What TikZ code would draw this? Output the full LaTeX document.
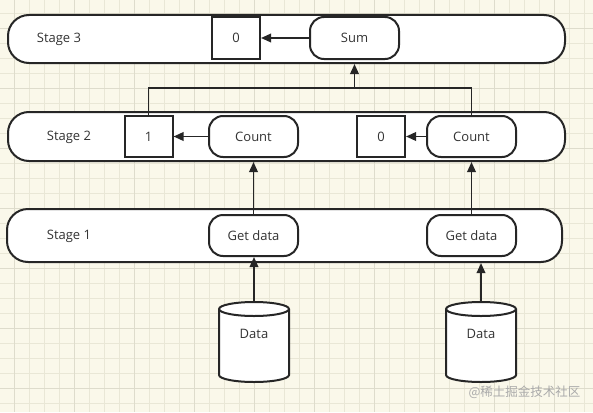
\documentclass[tikz,border=0pt]{standalone}
\usepackage{fontspec}
\setmainfont{Open Sans}
\newfontfamily\cjkfont{Noto Sans CJK SC}
\usetikzlibrary{arrows.meta}
\definecolor{bgcream}{RGB}{250,248,234}
\definecolor{gridminor}{RGB}{233,231,214}
\definecolor{gridmajor}{RGB}{222,220,204}
\definecolor{ink}{RGB}{38,38,38}
\definecolor{txt}{RGB}{51,51,51}
\definecolor{wm}{RGB}{170,170,170}
\tikzset{
  stagebox/.style={draw=ink, line width=2pt, fill=white, rounded corners=21pt, inner sep=0pt},
  valbox/.style={draw=ink, line width=2pt, fill=white, inner sep=0pt, minimum width=48pt, minimum height=41pt, text=txt},
  procbox/.style={draw=ink, line width=2pt, fill=white, rounded corners=14pt, inner sep=0pt, minimum width=89pt, minimum height=41pt, text=txt},
  dbline/.style={draw=ink, line width=2pt, fill=white},
  lbl/.style={text=txt, inner sep=0pt},
  arr/.style={draw=ink, line width=1.8pt, -{Triangle[length=10pt,width=8.5pt]}},
  link/.style={draw=ink, line width=1.4pt},
}
\begin{document}
\begin{tikzpicture}[x=1pt,y=-1pt,font=\fontsize{13}{15}\selectfont]
\useasboundingbox (0,0) rectangle (593,412);
\fill[bgcream] (0,0) rectangle (593,412);
\foreach \i in {0,...,38} {\draw[gridminor, line width=0.8pt] (14+15*\i,0) -- (14+15*\i,412);}
\foreach \i in {0,...,27} {\draw[gridminor, line width=0.8pt] (0,13+15*\i) -- (593,13+15*\i);}
\foreach \i in {0,...,9} {\draw[gridmajor, line width=0.9pt] (14+60*\i,0) -- (14+60*\i,412);}
\foreach \i in {0,...,6} {\draw[gridmajor, line width=0.9pt] (0,28+60*\i) -- (593,28+60*\i);}

% stage containers
\node[stagebox, minimum width=557pt, minimum height=48pt] (s3) at (286.5,39) {};
\node[stagebox, minimum width=557pt, minimum height=49pt] (s2) at (286.5,136.5) {};
\node[stagebox, minimum width=555pt, minimum height=53pt] (s1) at (284.5,235.5) {};

\node[lbl] (t3) at (59,39) {Stage 3};
\node[lbl] (t2) at (69,137) {Stage 2};
\node[lbl] (t1) at (69,236) {Stage 1};

% stage 3
\node[valbox, minimum height=42pt] (z3) at (236,38) {0};
\node[procbox, minimum height=42pt] (sum) at (354.5,38) {Sum};

% stage 2
\node[valbox] (one) at (148.5,136.5) {1};
\node[procbox] (c1) at (253.5,136.5) {Count};
\node[valbox] (z2) at (381,136.5) {0};
\node[procbox] (c2) at (471.5,136.5) {Count};

% stage 1
\node[procbox] (g1) at (253.5,235.5) {Get data};
\node[procbox] (g2) at (471.5,235.5) {Get data};

% data stores (cylinders)
\foreach \cx/\nm in {254/d1, 481/d2} {
  \draw[dbline] (\cx-35,309) -- (\cx-35,375) arc (180:0:35 and 7) -- (\cx+35,309) arc (0:-180:35 and 7) -- cycle;
  \draw[dbline, fill=none] (\cx-35,309) arc (180:0:35 and 7);
  \coordinate (\nm) at (\cx,302);
}
\node[lbl] (dl1) at (254,334) {Data};
\node[lbl] (dl2) at (481,334) {Data};

% connectors
\draw[arr] (sum.west) -- (z3.east);
\draw[arr] (c1.west) -- (one.east);
\draw[arr] (c2.west) -- (z2.east);
\coordinate (j) at (354.5,88);
\draw[link] (one.north) |- (j) -| (c2.north);
\draw[arr] (j) -- (j |- s3.south);
\draw[arr] (g1.north) -- (g1.north |- s2.south);
\draw[arr] (g2.north) -- (g2.north |- s2.south);
\draw[arr] (d1) -- (d1 |- g1.south);
\draw[arr] (d2) -- (d2 |- s1.south);

% watermark
\node[text=wm, inner sep=0pt, font=\cjkfont\fontsize{12.5}{15}\selectfont] (wmk) at (524.5,392) {@稀土掘金技术社区};
\end{tikzpicture}
\end{document}
